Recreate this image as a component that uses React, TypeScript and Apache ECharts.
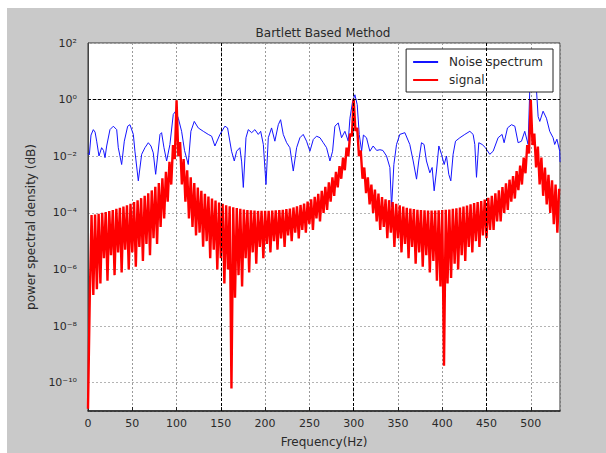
import React, { useEffect, useRef } from "react";
import * as echarts from "echarts";

// ---------- data ----------
const chartTitle = "Bartlett Based Method";
const xName = "Frequency(Hz)";
const yName = "power spectral density (dB)";
const seriesNames = ["Noise spectrum", "signal"];

// x axis: 0 .. 533 Hz, ticks every 50 Hz
const xMin = 0;
const xMax = 533;
const xTickStep = 50;
// y axis: 1e-11 .. 1e2, labels every two decades
const yMin = 1e-11;
const yMax = 1e2;

// Noise spectrum (blue): [frequency Hz, psd]
const noiseSpectrum: [number, number][] = [
  [0, 0.0126], [1.5, 0.0112], [3.4, 0.056], [6, 0.087], [8, 0.071], [9.8, 0.034],
  [12.4, 0.0102], [15.4, 0.02], [17.5, 0.016], [19.2, 0.0089], [21.1, 0.023], [24.8, 0.087],
  [28.6, 0.115], [32.4, 0.087], [34.2, 0.02], [38, 0.0051], [41, 0.034], [44.8, 0.115],
  [47.4, 0.13], [51.2, 0.059], [53, 0.015], [56.8, 0.00135], [60.6, 0.0117], [64.3, 0.02],
  [68.1, 0.03], [71.1, 0.023], [73.7, 0.0132], [76.4, 0.0023], [81.3, 0.059], [83.1, 0.068],
  [85.8, 0.02], [88.8, 0.0068], [92.5, 0.026], [96.3, 0.3], [98.9, 0.39], [102, 0.22],
  [105.7, 0.076], [109, 0.016], [113.2, 0.0051], [116.2, 0.076], [120, 0.17], [124.5, 0.1],
  [130.2, 0.076], [135.8, 0.059], [139.6, 0.051], [143.3, 0.023], [149, 0.059], [154.6, 0.115],
  [157.6, 0.1], [162.1, 0.015], [165.2, 0.0068], [167.8, 0.015], [171.5, 0.02], [173.5, 0.0063],
  [175.4, 0.00079], [178.4, 0.045], [181, 0.087], [184.8, 0.068], [188.5, 0.087], [192.3, 0.059],
  [195, 0.076], [198, 0.026], [201, 0.001], [203.6, 0.045], [207.3, 0.1], [211, 0.034],
  [214.9, 0.13], [217.5, 0.195], [220.5, 0.059], [224.3, 0.03], [228, 0.02], [231.8, 0.003],
  [235.6, 0.02], [239.3, 0.045], [243, 0.059], [246.8, 0.034], [250.6, 0.015], [254.4, 0.039],
  [258.1, 0.051], [262, 0.045], [265.7, 0.03], [269.4, 0.02], [273.2, 0.0068], [276.2, 0.015],
  [278.8, 0.115], [282.6, 0.15], [286.3, 0.045], [290.1, 0.076], [293.9, 0.034], [295.8, 0.22],
  [298.8, 0.87], [301.4, 1.48], [304, 0.66], [306.3, 0.059], [309, 0.015], [311, 0.056],
  [314.5, 0.045], [318.3, 0.015], [322, 0.023], [326, 0.016], [329.6, 0.017], [333, 0.016],
  [337.1, 0.0102], [340.9, 0.004], [342.8, 0.00016], [345.4, 0.0051], [348.4, 0.026], [352.1, 0.059],
  [357.8, 0.068], [363.4, 0.026], [367.2, 0.0068], [371, 0.00155], [373.5, 0.0068], [376.6, 0.03],
  [379.5, 0.026], [382.2, 0.0068], [386, 0.0026], [388.6, 0.004], [390.9, 0.0006], [393.5, 0.003],
  [396.2, 0.023], [399.2, 0.0117], [402.2, 0.0051], [404.8, 0.0102], [407.4, 0.0023], [409.7, 0.00135],
  [412.3, 0.0117], [415, 0.034], [419.9, 0.045], [425.5, 0.059], [431.2, 0.076], [434.9, 0.059],
  [436.8, 0.026], [438.7, 0.0018], [441.3, 0.03], [445.1, 0.026], [448.8, 0.02], [453.7, 0.0117],
  [457.5, 0.015], [463.1, 0.045], [467.6, 0.059], [469.9, 0.03], [473.7, 0.1], [478.2, 0.13],
  [482, 0.115], [485.7, 0.03], [489.5, 0.034], [493.2, 0.076], [497, 0.026], [499, 3.2],
  [501, 6.3], [503.5, 4], [506.5, 2], [508.3, 0.25], [510.2, 0.17], [513.9, 0.39],
  [517.7, 0.22], [521.4, 0.076], [525.2, 0.045], [527, 0.026], [529.5, 0.04], [532.7, 0.015],
  [533, 0.0063],
];

// Signal (red) periodogram, sampled every 2 Hz:
// values at f = 0, 4, 8, ... 532 Hz (ripple tops; first bin is the DC value)
const signalBinsAt4k: number[] = [
  1.2e-11, 8.3e-5, 8.7e-5, 9.3e-5, 1e-4, 1.07e-4, 1.15e-4, 1.26e-4, 1.38e-4, 1.51e-4,
  1.66e-4, 1.86e-4, 2.1e-4, 2.4e-4, 2.8e-4, 3.3e-4, 4e-4, 4.9e-4, 6.2e-4, 8.3e-4,
  1.12e-3, 1.66e-3, 2.8e-3, 6.3e-3, 2.5e-2, 0.95, 3.2e-2, 7.9e-3, 3.2e-3, 1.8e-3,
  1.12e-3, 7.9e-4, 6e-4, 4.7e-4, 3.8e-4, 3.2e-4, 2.7e-4, 2.3e-4, 2.1e-4, 1.86e-4,
  1.7e-4, 1.58e-4, 1.48e-4, 1.38e-4, 1.32e-4, 1.26e-4, 1.23e-4, 1.2e-4, 1.17e-4, 1.17e-4,
  1.17e-4, 1.17e-4, 1.2e-4, 1.23e-4, 1.26e-4, 1.29e-4, 1.35e-4, 1.41e-4, 1.55e-4, 1.7e-4,
  1.9e-4, 2.14e-4, 2.5e-4, 3e-4, 3.7e-4, 4.7e-4, 6e-4, 8.3e-4, 1.2e-3, 1.8e-3,
  2.8e-3, 4.5e-3, 8.9e-3, 2e-2, 6.3e-2, 1.07, 0.1, 1.6e-2, 4e-3, 1.8e-3,
  1e-3, 6.6e-4, 4.8e-4, 3.6e-4, 3e-4, 2.8e-4, 2.4e-4, 2.1e-4, 1.86e-4, 1.66e-4,
  1.51e-4, 1.41e-4, 1.35e-4, 1.29e-4, 1.26e-4, 1.23e-4, 1.2e-4, 1.2e-4, 1.2e-4, 1.23e-4,
  1.26e-4, 1.29e-4, 1.32e-4, 1.38e-4, 1.45e-4, 1.55e-4, 1.66e-4, 1.82e-4, 2e-4, 2.2e-4,
  2.4e-4, 2.6e-4, 2.95e-4, 3.4e-4, 4e-4, 4.9e-4, 6.2e-4, 8.1e-4, 1.1e-3, 1.48e-3,
  2e-3, 3e-3, 4.7e-3, 8.9e-3, 2.5e-2, 0.98, 6.3e-2, 2.2e-2, 8.9e-3, 4e-3,
  2.2e-3, 1.4e-3, 1e-3, 7.1e-4,
];
// values at f = 2, 6, 10, ... 530 Hz (ripple dips)
const signalBinsAt4kPlus2: number[] = [
  1e-7, 1.26e-7, 2e-7, 3.2e-7, 2.5e-6, 4e-7, 3.2e-6, 6.3e-7, 4e-6, 7.9e-7,
  5e-6, 1e-6, 4e-6, 1.26e-6, 6.3e-6, 2e-6, 7.9e-6, 3.2e-6, 1.26e-5, 7.9e-6,
  3.2e-5, 6.3e-5, 2.5e-4, 1e-3, 7.9e-3, 1e-2, 1e-3, 2.5e-4, 6.3e-5, 3.2e-5,
  1.6e-5, 2e-5, 6.3e-6, 1e-5, 2.5e-6, 5e-6, 1e-6, 2.5e-6, 3.2e-7, 1e-6,
  6.3e-11, 1e-7, 6.3e-7, 2.5e-7, 2.5e-6, 7.9e-7, 4e-6, 1.6e-6, 6.3e-6, 2.5e-6,
  7.9e-6, 4e-6, 1e-5, 5e-6, 1.26e-5, 6.3e-6, 1.6e-5, 1e-5, 2e-5, 1.26e-5,
  2.5e-5, 2e-5, 4e-5, 2.5e-5, 6.3e-5, 5e-5, 1e-4, 1.26e-4, 2.5e-4, 4e-4,
  7.9e-4, 1.6e-3, 3.2e-3, 1e-2, 5e-2, 7.9e-2, 1e-2, 1.6e-3, 5e-4, 2e-4,
  1e-4, 5e-5, 2.5e-5, 3.2e-5, 1.26e-5, 2e-5, 6.3e-6, 1.26e-5, 4e-6, 7.9e-6,
  2.5e-6, 6.3e-6, 1.6e-6, 4e-6, 1.26e-6, 3.2e-6, 7.9e-7, 2e-6, 4e-7, 2.5e-7,
  4e-10, 3.2e-7, 5e-7, 1.6e-6, 1e-6, 3.2e-6, 2e-6, 6.3e-6, 4e-6, 1e-5,
  6.3e-6, 1.6e-5, 1.26e-5, 2.5e-5, 2.5e-5, 5e-5, 5e-5, 1e-4, 1.26e-4, 2.5e-4,
  3.2e-4, 6.3e-4, 1e-3, 2.5e-3, 1.26e-2, 2.5e-2, 4e-3, 1e-3, 4e-4, 2e-4,
  1e-4, 4e-5, 2e-5,
];
const signalBinWidthHz = 2;

// ---------- helpers ----------
const SUP: Record<string, string> = {
  "-": "\u207B", "0": "\u2070", "1": "\u00B9", "2": "\u00B2", "3": "\u00B3",
  "4": "\u2074", "5": "\u2075", "6": "\u2076", "7": "\u2077", "8": "\u2078", "9": "\u2079",
};
const sup = (n: number) => String(n).split("").map((c) => SUP[c] ?? c).join("");

const FONT = "DejaVu Sans";
const TEXT = "#2a2a2a";

export default function App() {
  const ref = useRef<HTMLDivElement>(null);

  useEffect(() => {
    if (!ref.current) return;
    const chart = echarts.init(ref.current, null, { renderer: "svg" });

    const signal: [number, number][] = [];
    for (let i = 0; i < signalBinsAt4k.length; i++) {
      signal.push([2 * i * signalBinWidthHz, signalBinsAt4k[i]]);
      if (i < signalBinsAt4kPlus2.length) {
        signal.push([(2 * i + 1) * signalBinWidthHz, signalBinsAt4kPlus2[i]]);
      }
    }

    const darkGrid = { color: "#000", type: [3, 2] as number[], width: 1 };

    chart.setOption({
      animation: false,
      backgroundColor: "#c9c9c9",
      title: {
        text: chartTitle,
        left: 316,
        textAlign: "center",
        top: 19,
        padding: 0,
        textStyle: { fontFamily: FONT, fontSize: 12, fontWeight: "normal", color: TEXT },
      },
      legend: {
        data: seriesNames,
        orient: "vertical",
        right: 53,
        top: 41,
        padding: [7, 10, 6, 7],
        itemGap: 6,
        itemWidth: 25,
        itemHeight: 2,
        icon: "rect",
        backgroundColor: "#fff",
        borderColor: "#222",
        borderWidth: 1,
        borderRadius: 0,
        textStyle: {
          fontFamily: FONT,
          fontSize: 12,
          color: TEXT,
          padding: [0, 0, 0, 6],
          lineHeight: 11,
        },
      },
      grid: {
        left: 81,
        top: 35,
        right: 46,
        bottom: 40,
        show: true,
        backgroundColor: "#fff",
        borderColor: "#333",
        borderWidth: 1,
      },
      xAxis: {
        type: "value",
        min: xMin,
        max: xMax,
        interval: xTickStep,
        name: xName,
        nameLocation: "middle",
        nameGap: 25,
        nameTextStyle: { fontFamily: FONT, fontSize: 12, color: TEXT },
        axisLine: { show: true, lineStyle: { color: "#222", width: 1.5 } },
        axisTick: { show: true, inside: true, length: 4, lineStyle: { color: "#222" } },
        axisLabel: {
          showMaxLabel: false,
          fontFamily: FONT,
          fontSize: 11,
          color: TEXT,
          margin: 7,
        },
        splitLine: { show: true, lineStyle: { color: "#9a9a9a", type: [2, 2], width: 1 } },
      },
      yAxis: {
        type: "log",
        logBase: 100,
        min: yMin,
        max: yMax,
        name: yName,
        nameLocation: "middle",
        nameGap: 36,
        nameTextStyle: { fontFamily: FONT, fontSize: 12, color: TEXT },
        axisLine: { show: true, lineStyle: { color: "#444", width: 1 } },
        axisTick: { show: false },
        axisLabel: {
          fontFamily: FONT,
          fontSize: 11,
          color: TEXT,
          margin: 11,
          formatter: (v: number) => {
            const e = Math.round(Math.log10(v));
            if (e % 2 !== 0) return "";
            return "10" + sup(e);
          },
        },
        splitLine: { show: true, lineStyle: { color: "#b4b4b4", type: [2, 2], width: 1 } },
      },
      series: [
        {
          name: "gridlines",
          type: "line",
          data: [],
          z: 1,
          silent: true,
          markLine: {
            silent: true,
            symbol: ["none", "none"],
            label: { show: false },
            lineStyle: darkGrid,
            animation: false,
            data: [
              { xAxis: 150 },
              { xAxis: 300 },
              { xAxis: 450 },
              { yAxis: 1 },
              { yAxis: 1e-6 },
            ],
          },
        },
        {
          name: seriesNames[0],
          type: "line",
          data: noiseSpectrum,
          symbol: "none",
          showSymbol: false,
          z: 2,
          lineStyle: { color: "#1414ff", width: 1 },
          itemStyle: { color: "#1414ff" },
        },
        {
          name: seriesNames[1],
          type: "line",
          data: signal,
          symbol: "none",
          showSymbol: false,
          z: 3,
          lineStyle: { color: "#ff0000", width: 2.4, join: "bevel" },
          itemStyle: { color: "#ff0000" },
        },
      ],
    });

    return () => chart.dispose();
  }, []);

  return (
    <div
      style={{
        position: "absolute",
        left: 0,
        top: 0,
        width: 606,
        height: 453,
        background: "#fff",
        overflow: "hidden",
      }}
    >
      <div
        ref={ref}
        style={{ position: "absolute", left: 7, top: 8, width: 599, height: 445 }}
      />
    </div>
  );
}
